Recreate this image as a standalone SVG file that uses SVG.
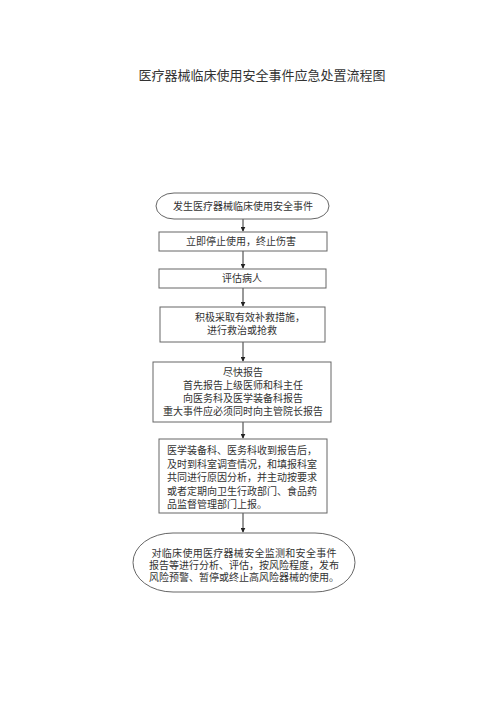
<svg xmlns="http://www.w3.org/2000/svg" width="500" height="707" viewBox="0 0 500 707">
<defs>
<style>
.t{font-family:"Liberation Serif","Noto Sans CJK SC",serif;fill:#333;font-size:10px}
.c{text-anchor:middle}
.s{fill:#fff;stroke:#666;stroke-width:1}
.l{stroke:#333;stroke-width:1;fill:none}
</style>
<marker id="a" viewBox="0 0 8 8" refX="7" refY="4" markerWidth="5" markerHeight="5" orient="auto"><path d="M0,0 L8,4 L0,8 z" fill="#222"/></marker>
</defs>
<rect width="500" height="707" fill="#fff"/>
<text class="t c" x="262" y="80" style="font-size:13px">医疗器械临床使用安全事件应急处置流程图</text>
<g id="connectors">
<line class="l" x1="243" y1="219" x2="243" y2="231" marker-end="url(#a)"/>
<line class="l" x1="243" y1="251" x2="243" y2="268" marker-end="url(#a)"/>
<line class="l" x1="243" y1="288" x2="243" y2="306" marker-end="url(#a)"/>
<line class="l" x1="243" y1="342" x2="243" y2="361" marker-end="url(#a)"/>
<line class="l" x1="243" y1="422" x2="243" y2="438" marker-end="url(#a)"/>
<line class="l" x1="243" y1="513" x2="243" y2="532" marker-end="url(#a)"/>
</g>
<g id="n1"><rect class="s" x="156" y="193" width="173" height="26" rx="18" ry="13"/><text class="t c" x="243" y="210">发生医疗器械临床使用安全事件</text></g>
<g id="n2"><rect class="s" x="159" y="232" width="168" height="19"/><text class="t c" x="241" y="245">立即停止使用，终止伤害</text></g>
<g id="n3"><rect class="s" x="159" y="269" width="167" height="19"/><text class="t c" x="242" y="282">评估病人</text></g>
<g id="n4"><rect class="s" x="160" y="307" width="165" height="35"/><text class="t" x="195" y="321">积极采取有效补救措施，</text><text class="t" x="207" y="334">进行救治或抢救</text></g>
<g id="n5"><rect class="s" x="153" y="362" width="178" height="60"/>
<text class="t c" x="243" y="376">尽快报告</text>
<text class="t c" x="243" y="389">首先报告上级医师和科主任</text>
<text class="t c" x="243" y="402">向医务科及医学装备科报告</text>
<text class="t c" x="243" y="415">重大事件应必须同时向主管院长报告</text></g>
<g id="n6"><rect class="s" x="159" y="439" width="168" height="74"/>
<text class="t" x="167" y="454">医学装备科、医务科收到报告后，</text>
<text class="t" x="167" y="468">及时到科室调查情况，和填报科室</text>
<text class="t" x="167" y="481">共同进行原因分析，并主动按要求</text>
<text class="t" x="167" y="495">或者定期向卫生行政部门、食品药</text>
<text class="t" x="167" y="508">品监督管理部门上报。</text></g>
<g id="n7"><rect class="s" x="133" y="533" width="222" height="59" rx="40" ry="29.5"/>
<text class="t c" x="244" y="557" textLength="185" lengthAdjust="spacing">对临床使用医疗器械安全监测和安全事件</text>
<text class="t c" x="244" y="569">报告等进行分析、评估，按风险程度，发布</text>
<text class="t c" x="244" y="581">风险预警、暂停或终止高风险器械的使用。</text></g>
</svg>
